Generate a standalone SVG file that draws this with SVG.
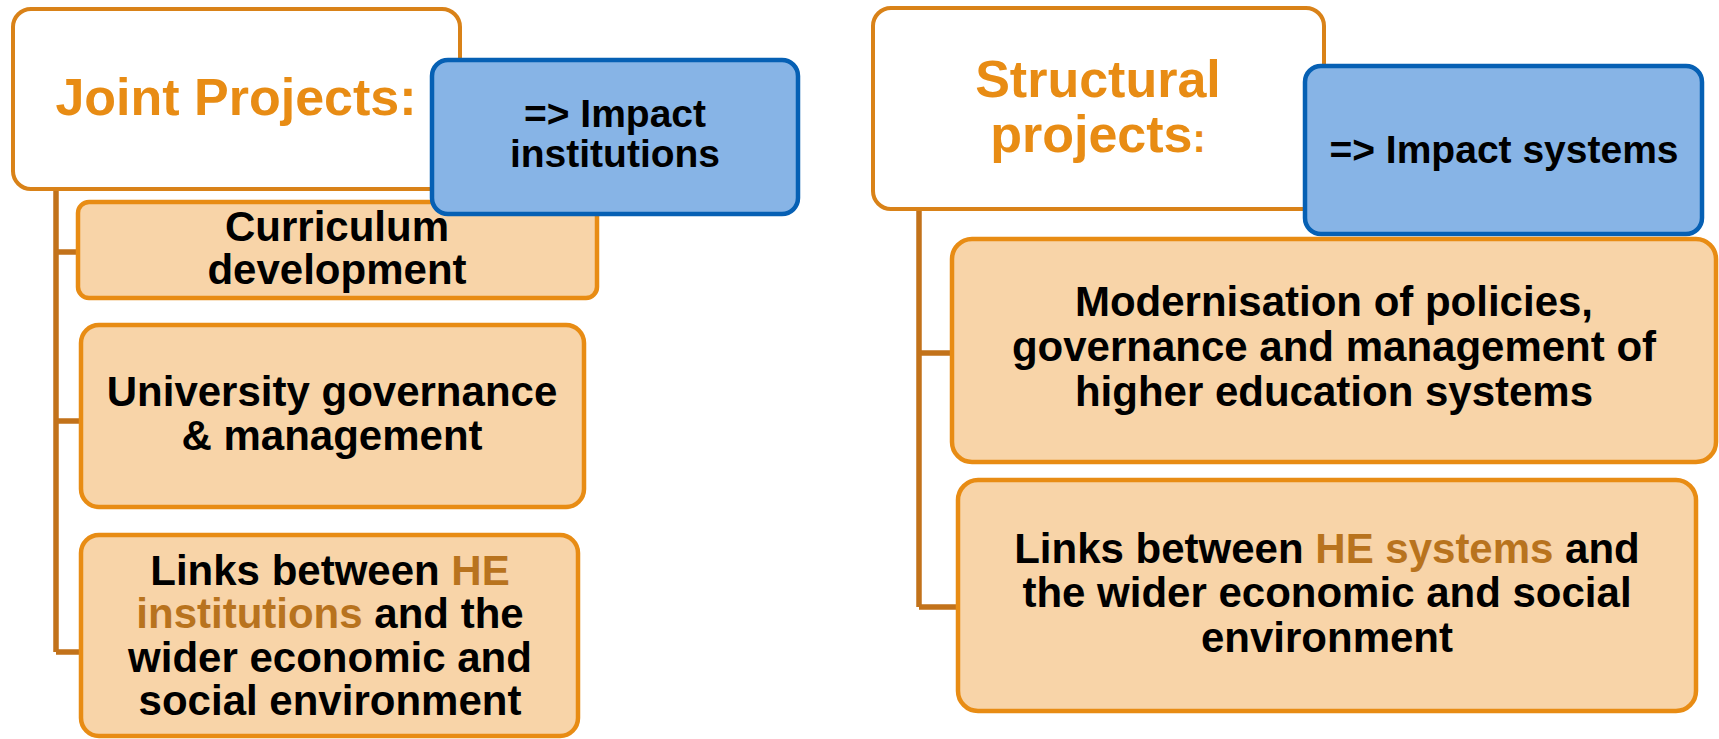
<svg xmlns="http://www.w3.org/2000/svg" width="1719" height="739" viewBox="0 0 1719 739">
<style>
  .hdr { fill: #FFFFFF; stroke: #D98218; stroke-width: 4; }
  .item { fill: #F8D4A8; stroke: #E88C14; stroke-width: 4.5; }
  .impact { fill: #87B4E6; stroke: #0660B4; stroke-width: 4.5; }
  .conn { fill: none; stroke: #C2721A; stroke-width: 5.5; }
  text { font-family: "Liberation Sans", Arial, sans-serif; font-weight: bold; text-anchor: middle; }
  .title { fill: #E88C14; font-size: 52px; }
  .body { fill: #000000; font-size: 42px; }
  .imp { fill: #000000; font-size: 39px; }
  .he { fill: #B8731E; }
</style>
<rect width="1719" height="739" fill="#FFFFFF"/>
<g id="connectors">
  <path class="conn" d="M56 189 V652 M56 252 H78 M56 421 H81 M56 652 H81"/>
  <path class="conn" d="M919 209 V607 M919 353 H952 M919 607 H958"/>
</g>
<g id="joint-header">
  <rect class="hdr" x="13" y="9" width="447" height="180" rx="18"/>
  <text class="title" x="236" y="115">Joint Projects:</text>
</g>
<g id="curriculum">
  <rect class="item" x="78" y="202" width="519" height="96" rx="11"/>
  <text class="body" x="337" y="241">Curriculum</text>
  <text class="body" x="337" y="284">development</text>
</g>
<g id="impact-institutions">
  <rect class="impact" x="432" y="60" width="366" height="154" rx="16"/>
  <text class="imp" x="615" y="127">=&gt; Impact</text>
  <text class="imp" x="615" y="167">institutions</text>
</g>
<g id="university-governance">
  <rect class="item" x="81" y="325" width="503" height="182" rx="18"/>
  <text class="body" x="332" y="406">University governance</text>
  <text class="body" x="332" y="450">&amp; management</text>
</g>
<g id="links-institutions">
  <rect class="item" x="81" y="535" width="497" height="201" rx="18"/>
  <text class="body" x="330" y="585">Links between <tspan class="he">HE</tspan></text>
  <text class="body" x="330" y="628"><tspan class="he">institutions</tspan> and the</text>
  <text class="body" x="330" y="672">wider economic and</text>
  <text class="body" x="330" y="715">social environment</text>
</g>
<g id="structural-header">
  <rect class="hdr" x="873" y="8" width="451" height="201" rx="18"/>
  <text class="title" x="1098" y="97">Structural</text>
  <text class="title" x="1098" y="152">projects<tspan font-size="40px">:</tspan></text>
</g>
<g id="impact-systems">
  <rect class="impact" x="1305" y="66" width="397" height="168" rx="16"/>
  <text class="imp" x="1504" y="163">=&gt; Impact systems</text>
</g>
<g id="modernisation">
  <rect class="item" x="952" y="239" width="764" height="223" rx="20"/>
  <text class="body" x="1334" y="316">Modernisation of policies,</text>
  <text class="body" x="1334" y="361">governance and management of</text>
  <text class="body" x="1334" y="406">higher education systems</text>
</g>
<g id="links-systems">
  <rect class="item" x="958" y="480" width="738" height="231" rx="20"/>
  <text class="body" x="1327" y="563">Links between <tspan class="he">HE systems</tspan> and</text>
  <text class="body" x="1327" y="607">the wider economic and social</text>
  <text class="body" x="1327" y="652">environment</text>
</g>
</svg>
